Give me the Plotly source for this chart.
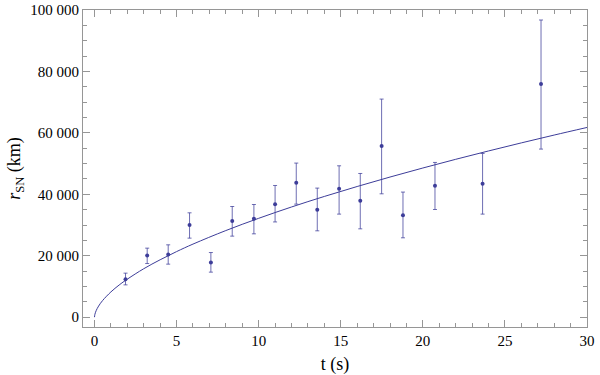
import plotly.graph_objects as go

# measured points: time (s), radius (km), upper / lower error bar ends
t_obs = [1.89, 3.21, 4.49, 5.79, 7.09, 8.39, 9.71, 11.0, 12.29, 13.57,
         14.9, 16.19, 17.49, 18.79, 20.74, 23.64, 27.2]
r_obs = [12380, 20060, 20390, 29970, 17790, 31270, 32020, 36800, 43750, 34950,
         41790, 37880, 55700, 33220, 42770, 43420, 75890]
r_hi = [14330, 22470, 23550, 33970, 21040, 36030, 36680, 42870, 50160, 42020,
        49280, 46780, 71000, 40720, 50370, 53290, 96740]
r_lo = [10520, 17460, 17260, 25730, 14660, 26380, 27130, 31000, 36800, 28110,
        33550, 28760, 40160, 25840, 35050, 33550, 54720]

# fitted curve
t_fit = [0, 0.02, 0.1, 0.25, 0.5, 1, 1.5, 2, 3, 4, 5, 6, 8, 10, 12, 14,
         16, 18, 20, 22, 24, 26, 28, 30]
r_fit = [0, 810, 2100, 3610, 5450, 8220, 10460, 12380, 15770, 18690, 21350,
         23790, 28200, 32180, 35870, 39300, 42540, 45620, 48560, 51390,
         54110, 56740, 59290, 61760]

navy = "rgb(61,61,153)"
frame = "rgb(150,150,150)"
serif = "Liberation Serif"

fig = go.Figure()
fig.add_trace(go.Scatter(
    x=t_fit, y=r_fit, mode="lines", line=dict(color=navy, width=1, shape="spline"),
    hoverinfo="skip",
))
fig.add_trace(go.Scatter(
    x=t_obs, y=r_obs, mode="markers",
    marker=dict(color=navy, size=4),
    error_y=dict(
        type="data", symmetric=False,
        array=[h - r for h, r in zip(r_hi, r_obs)],
        arrayminus=[r - l for r, l in zip(r_obs, r_lo)],
        color="rgba(61,61,153,0.75)", thickness=1, width=2,
    ),
))

axis_font = dict(family=serif, size=15, color="black")
fig.update_xaxes(
    range=[-0.7, 30], tickvals=[0, 5, 10, 15, 20, 25, 30],
    ticks="inside", ticklen=7, tickcolor=frame, showline=True, linecolor=frame,
    mirror="ticks", showgrid=False, zeroline=False, tickfont=axis_font,
    ticklabeloverflow="allow", automargin=False,
    minor=dict(dtick=1, ticks="inside", ticklen=4, tickcolor=frame, showgrid=False),
    title=dict(text="t (s)", font=dict(family=serif, size=18, color="black"), standoff=10),
)
fig.update_yaxes(
    range=[-3200, 100000], tickvals=[0, 20000, 40000, 60000, 80000, 100000],
    tickformat=",d",
    ticks="inside", ticklen=7, tickcolor=frame, showline=True, linecolor=frame,
    mirror="ticks", showgrid=False, zeroline=False, tickfont=axis_font,
    ticklabeloverflow="allow", automargin=False,
    minor=dict(dtick=5000, ticks="inside", ticklen=4, tickcolor=frame, showgrid=False),
    title=dict(text="<i>r</i><sub>SN</sub> (km)", font=dict(family=serif, size=18, color="black"), standoff=4),
)
fig.update_layout(
    width=600, height=375,
    margin=dict(l=83, r=13, t=10, b=48),
    plot_bgcolor="white", paper_bgcolor="white",
    font=dict(family=serif, color="black"),
    separators=". ",
    showlegend=False,
)

# drop the default body margin so the 600x375 figure fills the window exactly
fig.write_html(
    "out.html",
    config={"displayModeBar": False},
    post_script="document.body.style.margin='0';",
)
